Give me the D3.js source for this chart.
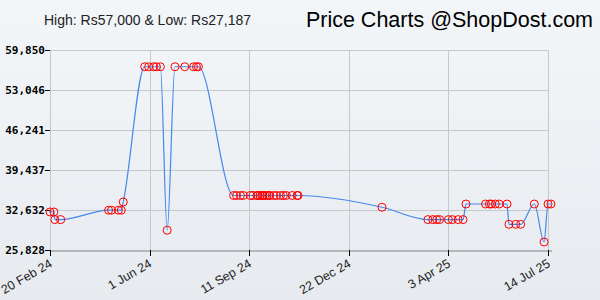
<!DOCTYPE html>
<html lang="en">
<head>
  <meta charset="UTF-8">
  <script src="https://d3js.org/d3.v7.min.js"></script>
  <style>
    body { margin: 0; }
    .ylab { font-family: "DejaVu Sans Mono", monospace; font-weight: bold; font-size: 11px; }
    .xlab { font-family: "Liberation Sans", Arial, sans-serif; font-size: 12.5px; fill: #222; }
  </style>
  <title>Price chart</title>
</head>
<body>
  <svg id="chart" width="600" height="300"></svg>
  <script>
    // price history (date, Rs)
    var dates = [
      "2024-02-20", "2024-02-24", "2024-02-25", "2024-03-02", "2024-04-20", "2024-04-23", "2024-04-30",
      "2024-05-03", "2024-05-05", "2024-05-27", "2024-05-31", "2024-06-05", "2024-06-08", "2024-06-12",
      "2024-06-19", "2024-06-27", "2024-07-07", "2024-07-16", "2024-07-19", "2024-07-21",
      "2024-08-26", "2024-08-29", "2024-09-02", "2024-09-05", "2024-09-12", "2024-09-15", "2024-09-19",
      "2024-09-20", "2024-09-22", "2024-09-24", "2024-09-25", "2024-09-27", "2024-09-29", "2024-10-01",
      "2024-10-02", "2024-10-06", "2024-10-09", "2024-10-13", "2024-10-16", "2024-10-19", "2024-10-25",
      "2024-10-30", "2024-10-31",
      "2025-01-25", "2025-03-13", "2025-03-18", "2025-03-22", "2025-03-25", "2025-04-03", "2025-04-07",
      "2025-04-13", "2025-04-18", "2025-04-21", "2025-05-11", "2025-05-15", "2025-05-17", "2025-05-21",
      "2025-05-25", "2025-06-02", "2025-06-04", "2025-06-11", "2025-06-16", "2025-06-30", "2025-07-10",
      "2025-07-14", "2025-07-17"
    ];
    var prices = [
      32300, 32300, 31000, 31000, 32600, 32600, 32600,
      32600, 34000, 57000, 57000, 57000, 57000, 57000,
      29190, 57000, 57000, 57000, 57000, 57000,
      35100, 35100, 35100, 35100, 35100, 35100, 35100,
      35100, 35100, 35100, 35100, 35100, 35100, 35100,
      35100, 35100, 35100, 35100, 35100, 35100, 35100,
      35100, 35100,
      33100, 31000, 31000, 31000, 31000, 31000, 31000,
      31000, 31000, 33650, 33650, 33650, 33650, 33650,
      33650, 33650, 30200, 30200, 30200, 33650, 27187,
      33650, 33650
    ];

    var yTicks = [25828, 32632, 39437, 46241, 53046, 59850];
    var xTicks = ["2024-02-20", "2024-06-01", "2024-09-11", "2024-12-22", "2025-04-03", "2025-07-14"];
    var xTickLabels = ["20 Feb 24", "1 Jun 24", "11 Sep 24", "22 Dec 24", "3 Apr 25", "14 Jul 25"];

    var titleLeft = "High: Rs57,000 & Low: Rs27,187";
    var titleRight = "Price Charts @ShopDost.com";

    var parse = d3.timeParse("%Y-%m-%d");
    var data = dates.map(function (d, i) { return { date: parse(d), price: prices[i] }; });

    var svg = d3.select("#chart");
    var width = +svg.attr("width"), height = +svg.attr("height");

    // soft background
    var grad = svg.append("defs").append("linearGradient")
      .attr("id", "bg").attr("x1", 0).attr("y1", 0).attr("x2", 0).attr("y2", 1);
    grad.append("stop").attr("offset", "0%").attr("stop-color", "#f3f6f9");
    grad.append("stop").attr("offset", "100%").attr("stop-color", "#e7ebef");
    svg.append("rect").attr("width", width).attr("height", height).attr("fill", "url(#bg)");

    var x = d3.scaleTime()
      .domain([parse(xTicks[0]), parse(xTicks[xTicks.length - 1])])
      .range([50, 548]);
    var y = d3.scaleLinear()
      .domain([yTicks[0], yTicks[yTicks.length - 1]])
      .range([250, 50]);

    // grid
    svg.append("g").selectAll("line").data(yTicks).enter().append("line")
      .attr("x1", 50).attr("x2", 548)
      .attr("y1", function (d) { return Math.round(y(d)) + 0.5; })
      .attr("y2", function (d) { return Math.round(y(d)) + 0.5; })
      .attr("stroke", "#c6c9cc");
    svg.append("g").selectAll("line").data(xTicks).enter().append("line")
      .attr("x1", function (d) { return Math.round(x(parse(d))) + 0.5; })
      .attr("x2", function (d) { return Math.round(x(parse(d))) + 0.5; })
      .attr("y1", 50).attr("y2", 250)
      .attr("stroke", "#c6c9cc");

    // bottom axis line + ticks
    svg.append("line").attr("x1", 50).attr("x2", 552).attr("y1", 251).attr("y2", 251)
      .attr("stroke", "#b4b7ba").attr("stroke-width", 2);
    svg.append("g").selectAll("line").data(xTicks).enter().append("line")
      .attr("x1", function (d) { return Math.round(x(parse(d))) + 0.5; })
      .attr("x2", function (d) { return Math.round(x(parse(d))) + 0.5; })
      .attr("y1", 250).attr("y2", 256)
      .attr("stroke", "#000");

    // y ticks + labels
    svg.append("g").selectAll("line").data(yTicks).enter().append("line")
      .attr("x1", 45).attr("x2", 50)
      .attr("y1", function (d) { return Math.round(y(d)) + 0.5; })
      .attr("y2", function (d) { return Math.round(y(d)) + 0.5; })
      .attr("stroke", "#000");
    svg.append("g").selectAll("text").data(yTicks).enter().append("text")
      .attr("class", "ylab")
      .attr("x", 45)
      .attr("y", function (d) { return y(d) + 4; })
      .attr("text-anchor", "end")
      .text(d3.format(",.0f"));

    // x labels, rotated
    svg.append("g").selectAll("text").data(xTicks).enter().append("text")
      .attr("class", "xlab")
      .attr("text-anchor", "end")
      .attr("transform", function (d) { return "translate(" + (x(parse(d)) + 3) + ",266) rotate(-30)"; })
      .text(function (d, i) { return xTickLabels[i]; });

    // price line
    var line = d3.line()
      .x(function (d) { return x(d.date); })
      .y(function (d) { return y(d.price); })
      .curve(d3.curveMonotoneX);
    svg.append("path").datum(data)
      .attr("d", line)
      .attr("fill", "none")
      .attr("stroke", "#4488ee")
      .attr("stroke-width", 1.2);

    // change points
    svg.append("g").selectAll("circle").data(data).enter().append("circle")
      .attr("cx", function (d) { return x(d.date); })
      .attr("cy", function (d) { return y(d.price); })
      .attr("r", 4)
      .attr("fill", "none")
      .attr("stroke", "#ff0000")
      .attr("stroke-width", 1);

    // titles
    svg.append("text").attr("x", 44).attr("y", 25)
      .style("font-family", "Liberation Sans, Arial, sans-serif").style("font-size", "14px").style("fill", "#222")
      .text(titleLeft);
    svg.append("text").attr("x", 593).attr("y", 27).attr("text-anchor", "end")
      .style("font-family", "Liberation Sans, Arial, sans-serif").style("font-size", "21.5px").style("fill", "#000")
      .text(titleRight);
  </script>
</body>
</html>
